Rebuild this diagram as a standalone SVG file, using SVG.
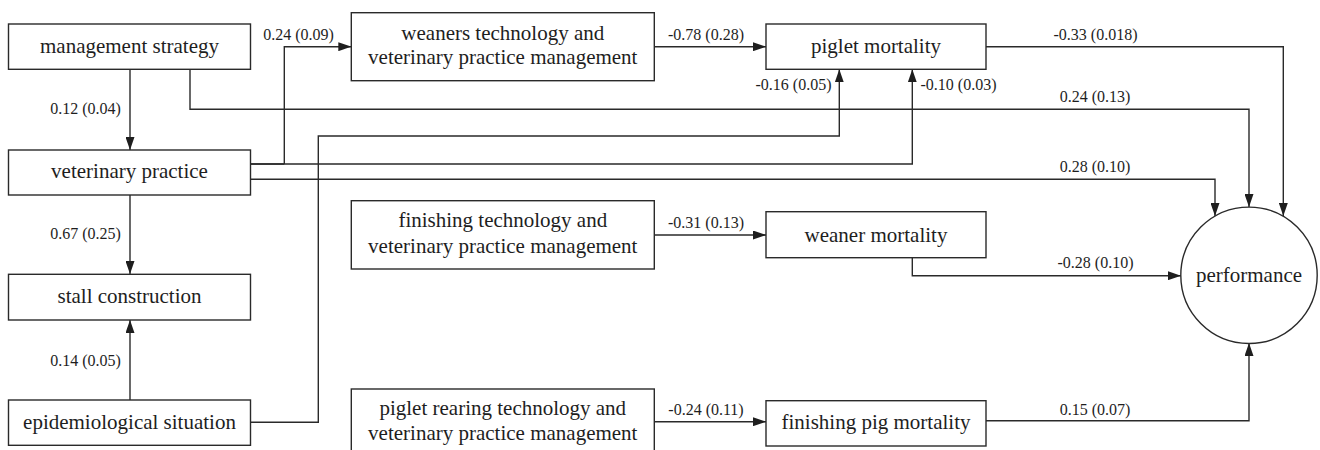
<svg xmlns="http://www.w3.org/2000/svg" width="1320" height="450" viewBox="0 0 1320 450">
<style>
.box{fill:#fff;stroke:#2a2a2a;stroke-width:1.4}
text{font-family:'Liberation Serif','Times New Roman',serif}
.node{font-size:21px;fill:#1e1e1e;text-anchor:middle}
.lbl{font-size:16px;fill:#1e1e1e;text-anchor:middle}
.edge{fill:none;stroke:#2a2a2a;stroke-width:1.4;marker-end:url(#ah)}
.plain{fill:none;stroke:#2a2a2a;stroke-width:1.4}
</style>
<defs>
<marker id="ah" markerUnits="userSpaceOnUse" markerWidth="13" markerHeight="9" refX="13" refY="4.5" orient="auto">
<path d="M0,0 L13,4.5 L0,9 z" fill="#1e1e1e"/>
</marker>
</defs>
<rect width="1320" height="450" fill="#fff"/>
<g id="connectors">
<path class="edge" d="M130,69.3 V150"/>
<path class="edge" d="M190,69.3 V109.3 H1249 V207"/>
<path class="plain" d="M250.5,164 H284.3"/>
<path class="edge" d="M250.5,164 H912.3 V69.3"/>
<path class="edge" d="M284.3,164 V46.7 H351.3"/>
<path class="edge" d="M250.5,179.3 H1215 V216"/>
<path class="edge" d="M250.5,422.3 H318.3 V136 H839.3 V69.3"/>
<path class="edge" d="M654.3,46.7 H766"/>
<path class="edge" d="M986,46.7 H1283.3 V216"/>
<path class="edge" d="M130,195 V274"/>
<path class="edge" d="M130,400 V320"/>
<path class="edge" d="M654.3,235 H766"/>
<path class="edge" d="M912.3,257.7 V275.7 H1181"/>
<path class="edge" d="M654.3,421.7 H766"/>
<path class="edge" d="M986,420.7 H1249 V343"/>
<text class="lbl" x="85.5" y="114">0.12 (0.04)</text>
<text class="lbl" x="298.5" y="39.5">0.24 (0.09)</text>
<text class="lbl" x="706" y="39.5">-0.78 (0.28)</text>
<text class="lbl" x="1095.5" y="39.5">-0.33 (0.018)</text>
<text class="lbl" x="793.5" y="90">-0.16 (0.05)</text>
<text class="lbl" x="958.5" y="90">-0.10 (0.03)</text>
<text class="lbl" x="1095" y="102.3">0.24 (0.13)</text>
<text class="lbl" x="1095" y="172.3">0.28 (0.10)</text>
<text class="lbl" x="85.5" y="239.3">0.67 (0.25)</text>
<text class="lbl" x="85.5" y="365.7">0.14 (0.05)</text>
<text class="lbl" x="706" y="228">-0.31 (0.13)</text>
<text class="lbl" x="1095.5" y="268.3">-0.28 (0.10)</text>
<text class="lbl" x="706" y="415">-0.24 (0.11)</text>
<text class="lbl" x="1095" y="414.5">0.15 (0.07)</text>
</g>
<g id="management-strategy">
<rect class="box" x="8.5" y="24" width="242" height="45.3"/>
<text class="node" x="129.5" y="53">management strategy</text>
</g>
<g id="veterinary-practice">
<rect class="box" x="8.5" y="150" width="242" height="45"/>
<text class="node" x="129.5" y="177.5">veterinary practice</text>
</g>
<g id="stall-construction">
<rect class="box" x="8.5" y="274.3" width="242" height="45.7"/>
<text class="node" x="129.5" y="302.5">stall construction</text>
</g>
<g id="epidemiological-situation">
<rect class="box" x="8.5" y="400" width="242" height="45.3"/>
<text class="node" x="129.5" y="428.5">epidemiological situation</text>
</g>
<g id="weaners-technology">
<rect class="box" x="351.3" y="12.7" width="303" height="68"/>
<text class="node" x="502.8" y="39.5">weaners technology and</text>
<text class="node" x="502.8" y="64.3">veterinary practice management</text>
</g>
<g id="finishing-technology">
<rect class="box" x="351.3" y="200.7" width="303" height="68.3"/>
<text class="node" x="502.8" y="227">finishing technology and</text>
<text class="node" x="502.8" y="252.8">veterinary practice management</text>
</g>
<g id="piglet-rearing-technology">
<rect class="box" x="351.3" y="389" width="303" height="70"/>
<text class="node" x="502.8" y="415">piglet rearing technology and</text>
<text class="node" x="502.8" y="440.3">veterinary practice management</text>
</g>
<g id="piglet-mortality">
<rect class="box" x="766" y="24" width="220" height="45.3"/>
<text class="node" x="876" y="53">piglet mortality</text>
</g>
<g id="weaner-mortality">
<rect class="box" x="766" y="211.7" width="220" height="46"/>
<text class="node" x="876" y="241.7">weaner mortality</text>
</g>
<g id="finishing-pig-mortality">
<rect class="box" x="766" y="400.7" width="220" height="45.3"/>
<text class="node" x="876" y="429.3">finishing pig mortality</text>
</g>
<g id="performance">
<circle cx="1249" cy="275.3" r="68.2" fill="#fff" stroke="#2a2a2a" stroke-width="1.4"/>
<text class="node" x="1249" y="282">performance</text>
</g>
</svg>
